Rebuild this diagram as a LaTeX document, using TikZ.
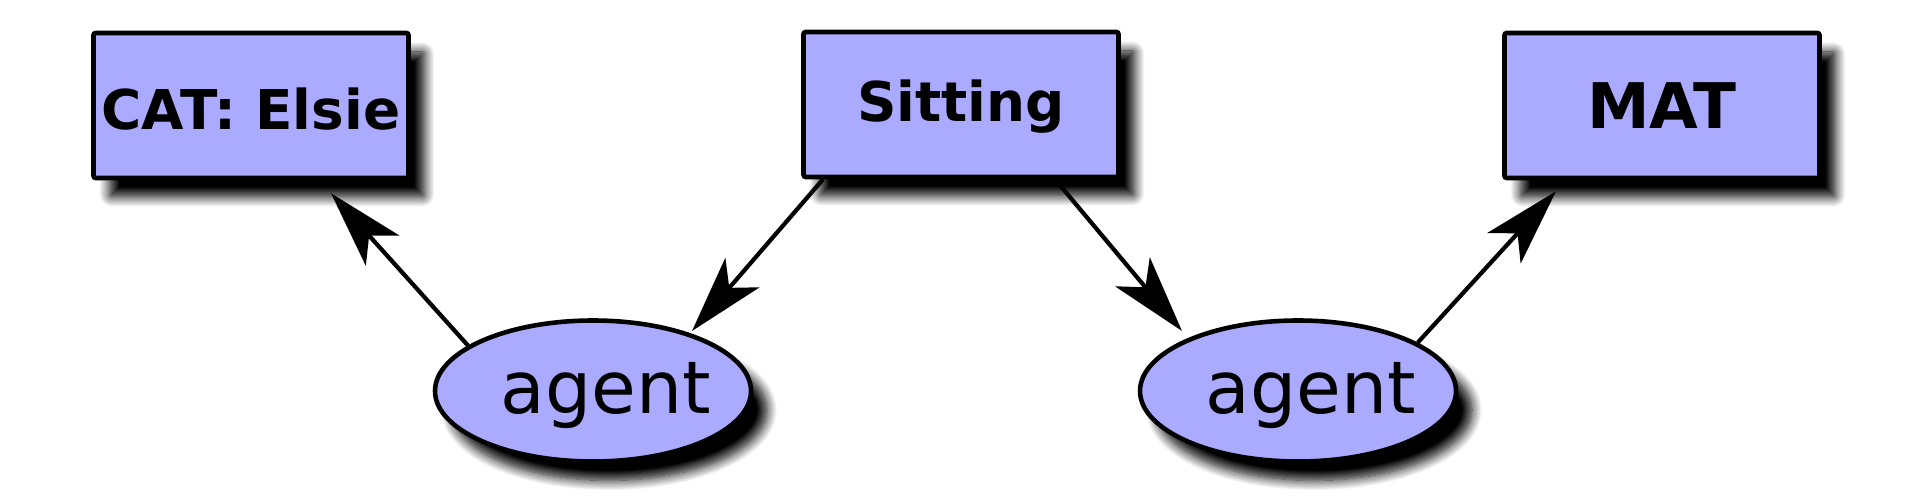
\documentclass[tikz,border=0pt]{standalone}
\usepackage{fontspec}
\setmainfont{DejaVu Sans}
\usetikzlibrary{arrows.meta,calc,shapes.geometric,shadows.blur}
\definecolor{nodefill}{HTML}{AAAAFF}
\tikzset{
  base/.style={draw=black, line width=1.3pt, fill=nodefill,
    blur shadow={shadow xshift=0.16cm, shadow yshift=-0.19cm, shadow blur radius=0.1cm, shadow opacity=100, shadow blur steps=12}},
  concept/.style={base, rectangle, rounded corners=0.6pt, minimum width=3.15cm, minimum height=1.45cm,
    font=\fontsize{15.6}{18}\selectfont\bfseries, inner sep=0pt},
  relation/.style={base, ellipse, minimum width=3.16cm, minimum height=1.41cm,
    font=\fontsize{20.7}{24}\selectfont, inner sep=0pt},
  arr/.style={line width=1.2pt, -{Stealth[length=0.77cm, width=0.45cm, inset=0.2cm]}},
}
\begin{document}
\begin{tikzpicture}
\useasboundingbox (0,0) rectangle (19.2,4.97);
\node[concept] (cat) at (2.51,3.915) {\raisebox{-0.04cm}[\height][\depth]{CAT: Elsie}};
\node[concept] (sit) at (9.61,3.925) {\raisebox{-0.025cm}[\height][\depth]{Sitting}};
\node[concept, font=\fontsize{17.9}{21}\selectfont\bfseries] (mat) at (16.62,3.915) {MAT};
\node[relation] (ag1) at (5.93,1.06) {\makebox[0pt]{\hspace{0.26cm}\raisebox{-0.045cm}[\height][\depth]{agent}}};
\node[relation] (ag2) at (12.98,1.06) {\makebox[0pt]{\hspace{0.26cm}\raisebox{-0.045cm}[\height][\depth]{agent}}};
\draw[arr] (ag1.160) -- ($(cat.south)+(0.80,-0.13)$);
\draw[arr] ($(sit.south)+(-1.38,0)$) -- ($(ag1.center)+(0.99,0.60)$);
\draw[arr] ($(sit.south)+(0.94,0)$) -- ($(ag2.center)+(-1.16,0.60)$);
\draw[arr] (ag2.22) -- ($(mat.south)+(-1.06,-0.11)$);
\end{tikzpicture}
\end{document}
